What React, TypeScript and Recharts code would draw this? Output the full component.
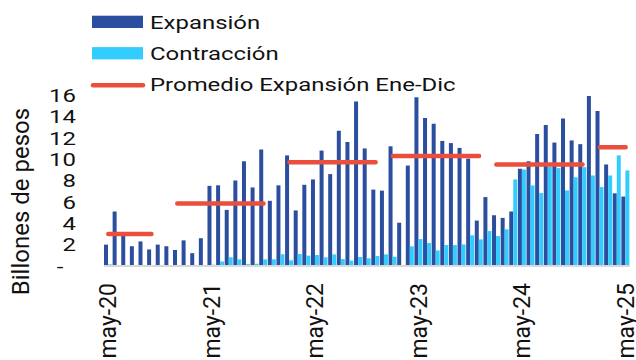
import { Bar, ComposedChart, Label, Line, XAxis, YAxis } from 'recharts'

// Colores de las series
const DARK = '#2B4F9E'
const LIGHT = '#33CCFF'
const RED = '#E94F3C'
const FONT = 'Roboto, "Noto Sans", sans-serif'
// El texto horizontal del gráfico va ensanchado
const SX = 1.26

const months = [
  'may-20', 'jun-20', 'jul-20', 'ago-20', 'sep-20', 'oct-20', 'nov-20', 'dic-20',
  'ene-21', 'feb-21', 'mar-21', 'abr-21', 'may-21', 'jun-21', 'jul-21', 'ago-21', 'sep-21', 'oct-21', 'nov-21', 'dic-21',
  'ene-22', 'feb-22', 'mar-22', 'abr-22', 'may-22', 'jun-22', 'jul-22', 'ago-22', 'sep-22', 'oct-22', 'nov-22', 'dic-22',
  'ene-23', 'feb-23', 'mar-23', 'abr-23', 'may-23', 'jun-23', 'jul-23', 'ago-23', 'sep-23', 'oct-23', 'nov-23', 'dic-23',
  'ene-24', 'feb-24', 'mar-24', 'abr-24', 'may-24', 'jun-24', 'jul-24', 'ago-24', 'sep-24', 'oct-24', 'nov-24', 'dic-24',
  'ene-25', 'feb-25', 'mar-25', 'abr-25', 'may-25',
]

const expansion = [
  2.0, 5.1, 2.9, 1.85, 2.3, 1.55, 2.0, 1.85,
  1.5, 2.4, 1.2, 2.6, 7.5, 7.55, 5.25, 8.0, 9.8, 7.35, 10.9, 6.1,
  7.55, 10.35, 5.2, 7.6, 8.1, 10.8, 8.6, 12.65, 11.6, 15.4, 11.0, 7.15,
  7.05, 11.2, 4.05, 9.4, 15.8, 13.85, 13.3, 11.7, 11.5, 11.05, 10.05, 4.25,
  6.45, 4.75, 4.5, 5.1, 9.1, 9.8, 12.35, 13.2, 11.55, 13.8, 11.75, 11.4,
  15.9, 14.5, 9.5, 6.8, 6.5,
]

const contraction = [
  0.15, 0, 0, 0, 0, 0, 0, 0,
  0, 0, 0, 0, 0.12, 0.42, 0.82, 0.62, 0.17, 0.2, 0.62, 0.63,
  1.1, 0.53, 1.12, 0.97, 1.03, 0.81, 1.09, 0.65, 0.5, 0.84, 0.72, 0.93,
  1.09, 0.87, 0.06, 1.84, 2.52, 2.15, 1.46, 1.96, 1.96, 2.02, 2.87, 2.49,
  3.27, 2.8, 3.43, 8.1, 9.03, 7.54, 6.82, 9.28, 9.16, 7.07, 8.3, 9.25,
  8.47, 7.38, 8.47, 10.35, 8.94,
]

// Promedio anual de expansión y el tramo de meses donde se dibuja
const yearAvg = [3.0, 5.85, 9.7, 10.3, 9.5, 11.1]
const avgSpans = [
  ['may-20', 'oct-20'],
  ['ene-21', 'nov-21'],
  ['feb-22', 'dic-22'],
  ['feb-23', 'dic-23'],
  ['feb-24', 'dic-24'],
  ['feb-25', 'may-25'],
]

const yTicks = [0, 2, 4, 6, 8, 10, 12, 14, 16]

const data = months.map((m, i) => {
  const k = avgSpans.findIndex(
    ([a, b]) => i >= months.indexOf(a) && i <= months.indexOf(b),
  )
  return {
    month: m,
    expansion: expansion[i],
    contraction: contraction[i],
    promedio: k >= 0 ? yearAvg[k] : null,
  }
})

const legendItems = [
  { name: 'Expansión', color: DARK, line: false },
  { name: 'Contracción', color: LIGHT, line: false },
  { name: 'Promedio Expansión Ene-Dic', color: RED, line: true },
]

function YTick({ x, y, payload }: any) {
  if (payload.value === 0) {
    return (
      <g transform={`translate(${x - 16} ${y}) scale(${SX} 1)`}>
        <text textAnchor="middle" dy="0.355em" fontSize={19} fontFamily={FONT} fill="#111">
          -
        </text>
      </g>
    )
  }
  return (
    <g transform={`translate(${x} ${y}) scale(${SX} 1)`}>
      <text textAnchor="end" dy="0.355em" fontSize={19} fontFamily={FONT} fill="#111">
        {payload.value}
      </text>
    </g>
  )
}

function XTick({ x, y, payload }: any) {
  return (
    <text
      transform={`translate(${x} ${y}) rotate(-90)`}
      textAnchor="end"
      dy="0.355em"
      fontSize={23}
      fontFamily={FONT}
      fill="#111"
    >
      {payload.value}
    </text>
  )
}

function Legend() {
  return (
    <svg width={636} height={100} style={{ position: 'absolute', left: 0, top: 0 }}>
      {legendItems.map((it, i) => {
        const base = 28.5 + 31.4 * i
        return (
          <g key={it.name}>
            {it.line ? (
              <line x1={93} x2={143} y1={base - 6} y2={base - 6} stroke={it.color} strokeWidth={4.5} strokeLinecap="round" />
            ) : (
              <rect x={92} y={base - 12.8} width={51} height={12.3} fill={it.color} />
            )}
            <g transform={`translate(150 ${base}) scale(${SX} 1)`}>
              <text fontSize={19} fontFamily={FONT} fill="#111">
                {it.name}
              </text>
            </g>
          </g>
        )
      })}
    </svg>
  )
}

export default function App() {
  return (
    <div style={{ position: 'absolute', left: 0, top: 0, width: 636, height: 360, background: '#fff' }}>
      <ComposedChart
        width={636}
        height={360}
        data={data}
        margin={{ top: 95, right: 6, bottom: 0, left: 0 }}
        barCategoryGap={0}
        barGap={0}
      >
        <XAxis
          dataKey="month"
          interval={11}
          height={94}
          tickLine={false}
          tickSize={0}
          tickMargin={17}
          axisLine={{ stroke: '#D9D9D9', strokeWidth: 2 }}
          tick={<XTick />}
        />
        <YAxis
          width={104}
          domain={[0, 16]}
          ticks={yTicks}
          interval={0}
          axisLine={false}
          tickLine={false}
          tickSize={0}
          tickMargin={28}
          tick={<YTick />}
        >
          <Label
            value="Billones de pesos"
            content={(p: any) => (
              <text
                transform="translate(29 201.5) rotate(-90)"
                textAnchor="middle"
                fontSize={24}
                fontFamily={FONT}
                fill="#111"
              >
                {p.value}
              </text>
            )}
          />
        </YAxis>
        <Bar dataKey="expansion" name="Expansión" fill={DARK} isAnimationActive={false} />
        <Bar dataKey="contraction" name="Contracción" fill={LIGHT} isAnimationActive={false} />
        <Line
          dataKey="promedio"
          name="Promedio Expansión Ene-Dic"
          stroke={RED}
          strokeWidth={4.5}
          strokeLinecap="round"
          dot={false}
          activeDot={false}
          connectNulls={false}
          isAnimationActive={false}
        />
      </ComposedChart>
      <Legend />
    </div>
  )
}
